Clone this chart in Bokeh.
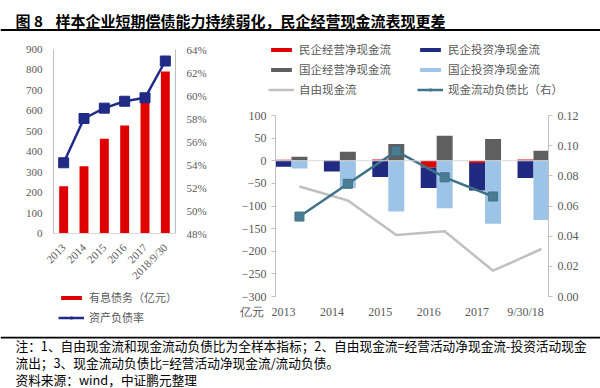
import math
import numpy as np
from bokeh.plotting import figure
from bokeh.layouts import column, row
from bokeh.models import (Range1d, LinearAxis, FactorRange, Legend, LegendItem, Span,
                          Label, NumeralTickFormatter, FixedTicker)
from bokeh.embed import file_html
from bokeh.resources import INLINE

# ---------------- data ----------------
title_no = "图 8"
title_text = "样本企业短期偿债能力持续弱化，民企经营现金流表现更差"

left_years = ["2013", "2014", "2015", "2016", "2017", "2018/9/30"]
debt = [231, 329, 463, 528, 660, 792]                      # 有息债务（亿元）
asset_liab = [0.5415, 0.580, 0.589, 0.595, 0.598, 0.630]   # 资产负债率

right_labels = ["2013", "2014", "2015", "2016", "2017", "9/30/18"]
unit_label = "亿元"
priv_op = [2, 1, 3, -15, -5, 3]            # 民企经营净现金流
priv_inv = [-13, -24, -36, -45, -61, -38]  # 民企投资净现金流
soe_op = [9, 20, 37, 55, 48, 22]           # 国企经营净现金流
soe_inv = [-17, -60, -112, -105, -139, -131]  # 国企投资净现金流
fcf = [-57, -88, -164, -156, -243, -195]   # 自由现金流
cash_ratio = [0.053, 0.0747, 0.0964, 0.079, 0.0663, float("nan")]  # 现金流动负债比（右）

notes = [
    "注：1、自由现金流和现金流动负债比为全样本指标；2、自由现金流=经营活动净现金流-投资活动现金",
    "流出；3、现金流动负债比=经营活动净现金流/流动负债。",
    "资料来源：wind，中证鹏元整理",
]

# ---------------- styles ----------------
RED = "#E00000"
NAVY = "#1F2B85"
DBLUE = "#1F2A80"
GRAY = "#5F5F5F"
LBLUE = "#9DC3E6"
FCFC = "#C0C0C0"
TEAL = "#3F7389"
TEAL_PT = "#4A7D93"
TXT = "#595959"
AXC = "#BFBFBF"
CJK = "Noto Sans CJK SC"
SERIF = "Liberation Serif"
OFF = [-100.0]   # key glyphs of the legend strips lie outside their (empty) view


def blank(w, h):
    p = figure(width=w, height=h, x_range=Range1d(0, w), y_range=Range1d(0, h),
               x_axis_type=None, y_axis_type=None, min_border=0, title=None,
               output_backend="svg", toolbar_location=None)
    p.grid.visible = False
    p.outline_line_color = None
    p.frame_align = False
    return p


def style_axis(ax, size="11px"):
    ax.major_label_text_font = SERIF
    ax.major_label_text_font_size = size
    ax.major_label_text_color = TXT
    ax.axis_line_color = AXC
    ax.major_tick_line_color = AXC
    ax.minor_tick_line_color = None


def make_legend(items, loc, size):
    return Legend(items=items, location=loc, glyph_width=26, glyph_height=5,
                  label_height=18, spacing=2, padding=0, margin=0, label_standoff=5,
                  label_text_font_size=size, label_text_color=TXT, label_text_font=CJK,
                  border_line_color=None, background_fill_alpha=0)


def key_bar(p, color):
    return p.vbar(x=OFF, top=OFF, width=1, fill_color=color, line_color=None)


def key_line(p, color):
    return p.line(OFF * 2, OFF * 2, line_color=color, line_width=2.5)


def key_square(p, fill, line, size):
    return p.scatter(OFF, OFF, marker="square", size=size, fill_color=fill, line_color=line)


# ---------------- header ----------------
ph = blank(600, 36)
ph.add_layout(Label(x=15, y=16, text=title_no, text_font=CJK, text_font_size="15px",
                    text_font_style="bold", text_baseline="middle", text_color="black"))
ph.add_layout(Label(x=55, y=16, text=title_text, text_font=CJK, text_font_size="15px",
                    text_font_style="bold", text_baseline="middle", text_color="black"))
ph.add_layout(Span(location=6.5, dimension="width", line_color="black", line_width=2))

# ---------------- left chart ----------------
pl = figure(width=210, height=252, x_range=FactorRange(*left_years), y_range=Range1d(0, 900),
            output_backend="svg", toolbar_location=None, title=None,
            min_border_left=53, min_border_right=35, min_border_top=13, min_border_bottom=55)
pl.frame_align = False
pl.extra_y_ranges = {"pct": Range1d(0.48, 0.64)}
pl.grid.visible = False
pl.outline_line_color = None

bars = pl.vbar(x=left_years, top=debt, width=0.44, fill_color=RED, line_color=None)
ln = pl.line(left_years, asset_liab, y_range_name="pct", line_color=NAVY, line_width=2.5)
pts = pl.scatter(left_years, asset_liab, y_range_name="pct", marker="square", size=10,
                 fill_color=NAVY, line_color=NAVY)

pl.yaxis.ticker = FixedTicker(ticks=list(range(0, 901, 100)))
style_axis(pl.yaxis[0])
pl.yaxis.major_tick_line_color = None
pr_ax = LinearAxis(y_range_name="pct", ticker=FixedTicker(ticks=[0.48 + 0.02 * i for i in range(9)]),
                   formatter=NumeralTickFormatter(format="0%"))
style_axis(pr_ax)
pr_ax.major_tick_line_color = None
pl.add_layout(pr_ax, "right")
style_axis(pl.xaxis[0])
pl.xaxis.major_label_orientation = math.pi / 4
pl.xaxis.major_tick_line_color = None
pl.xaxis.axis_line_color = "#D9D9D9"
pl.xaxis.major_label_standoff = 6

# legend strip of the left chart
plg = blank(210, 48)
plg.add_layout(make_legend(
    [LegendItem(label="有息债务（亿元）", renderers=[key_bar(plg, RED)]),
     LegendItem(label="资产负债率", renderers=[key_line(plg, NAVY),
                                               key_square(plg, NAVY, NAVY, 5)])],
    (58, 10), "11px"))

# ---------------- right chart ----------------
xs = np.arange(len(right_labels), dtype=float)
BW = 0.33


def stack2(a, b):
    a = np.array(a, float)
    b = np.array(b, float)
    a_bot = np.zeros_like(a)
    same = np.sign(a) == np.sign(b)
    b_bot = np.where(same, a, 0.0)
    return a_bot, a, b_bot, b_bot + b


pa_b, pa_t, pb_b, pb_t = stack2(priv_op, priv_inv)
sa_b, sa_t, sb_b, sb_t = stack2(soe_op, soe_inv)

X0 = -0.165
prr = figure(width=390, height=229, x_range=Range1d(X0, 5.475), y_range=Range1d(-300, 100),
             output_backend="svg", toolbar_location=None, title=None,
             min_border_left=65, min_border_right=52, min_border_top=8, min_border_bottom=40)
prr.frame_align = False
prr.extra_y_ranges = {"r": Range1d(0, 0.12)}
prr.grid.visible = False
prr.outline_line_color = None

prr.add_layout(Span(location=0, dimension="width", line_color="#D9D9D9", line_width=1))
r_red = prr.vbar(x=xs, bottom=pa_b, top=pa_t, width=BW, fill_color=RED, line_color=None)
r_navy = prr.vbar(x=xs, bottom=pb_b, top=pb_t, width=BW, fill_color=DBLUE, line_color=None)
r_gray = prr.vbar(x=xs + BW, bottom=sa_b, top=sa_t, width=BW, fill_color=GRAY, line_color=None)
r_lb = prr.vbar(x=xs + BW, bottom=sb_b, top=sb_t, width=BW, fill_color=LBLUE, line_color=None)
r_fcf = prr.line(xs + BW, fcf, line_color=FCFC, line_width=2.5)
r_cl = prr.line(xs + BW, cash_ratio, y_range_name="r", line_color=TEAL, line_width=2.5)
r_cp = prr.scatter(xs + BW, cash_ratio, y_range_name="r", marker="square", size=9,
                   fill_color=TEAL_PT, line_color=TEAL)

prr.yaxis.ticker = FixedTicker(ticks=list(range(-300, 101, 50)))
style_axis(prr.yaxis[0], "12px")
prr.yaxis.major_tick_in = 0
prr.yaxis.major_tick_out = 4
rax = LinearAxis(y_range_name="r", ticker=FixedTicker(ticks=[0.02 * i for i in range(7)]),
                 formatter=NumeralTickFormatter(format="0.00"))
style_axis(rax, "12px")
rax.major_tick_in = 0
rax.major_tick_out = 4
prr.add_layout(rax, "right")
# unit label "亿元" sits at the left end of the category axis row
unit_tick = X0 + 0.005
prr.xaxis.ticker = FixedTicker(ticks=[unit_tick] + list(range(len(right_labels))))
overrides = {i: lab for i, lab in enumerate(right_labels)}
overrides[unit_tick] = unit_label + "\u3000" * 4
prr.xaxis.major_label_overrides = overrides
style_axis(prr.xaxis[0], "12px")
prr.xaxis.axis_line_color = None
prr.xaxis.major_tick_line_color = None
prr.xaxis.major_label_standoff = 2

# legend strip of the right chart
prg = blank(390, 71)
prg.add_layout(make_legend(
    [LegendItem(label="民企经营净现金流", renderers=[key_bar(prg, RED)]),
     LegendItem(label="国企经营净现金流", renderers=[key_bar(prg, GRAY)]),
     LegendItem(label="自由现金流", renderers=[key_line(prg, FCFC)])], (58, 9), "11.5px"))
prg.add_layout(make_legend(
    [LegendItem(label="民企投资净现金流", renderers=[key_bar(prg, DBLUE)]),
     LegendItem(label="国企投资净现金流", renderers=[key_bar(prg, LBLUE)]),
     LegendItem(label="现金流动负债比（右）", renderers=[key_line(prg, TEAL),
                                                    key_square(prg, TEAL_PT, TEAL, 5)])],
    (207, 9), "11.5px"))

# ---------------- footer ----------------
pf = blank(600, 52)
pf.add_layout(Span(location=51, dimension="width", line_color="black", line_width=2))
for i, t in enumerate(notes):
    pf.add_layout(Label(x=15, y=43 - 17 * i, text=t, text_font=CJK, text_font_size="12.7px",
                        text_baseline="middle", text_color="black"))

layout = column(ph, row(column(pl, plg), column(prg, prr)), pf)
open("out.html", "w").write(file_html(layout, INLINE))
